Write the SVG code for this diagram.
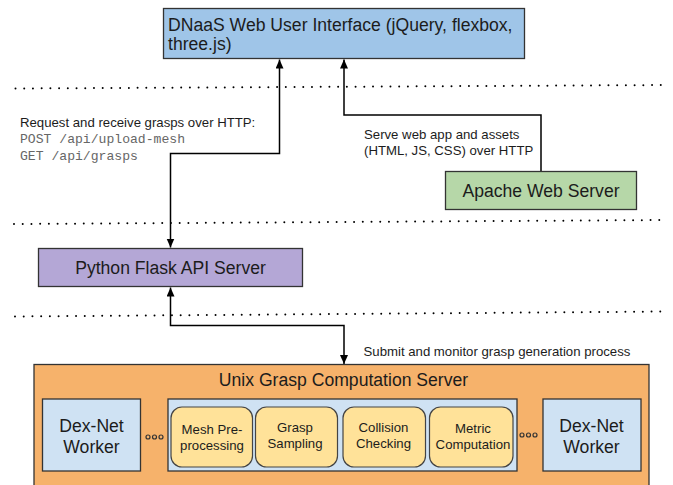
<svg xmlns="http://www.w3.org/2000/svg" width="673" height="485" viewBox="0 0 673 485">
<style>
text{font-family:"Liberation Sans",Arial,sans-serif;fill:#1c1c1c;text-anchor:middle}
.box{stroke:#333;stroke-width:1.3}
.lbl{font-size:13.2px;text-anchor:start}
.mono{font-family:"Liberation Mono","Courier New",monospace;font-size:13.1px;fill:#666;text-anchor:start}
.big{font-size:17.6px}
.yel{fill:#ffe299;stroke:#444;stroke-width:1.2}
.ys{font-size:13.2px}
.dot{fill:none;stroke:#000;stroke-width:2;stroke-linecap:round;stroke-dasharray:0 8.72}
.con{fill:none;stroke:#000;stroke-width:1.5}
.dots circle{fill:none;stroke:#333;stroke-width:1.2}
</style>
<defs>
<marker id="ah" markerUnits="userSpaceOnUse" markerWidth="10" markerHeight="10" refX="9" refY="4" orient="auto-start-reverse"><path d="M0 0L9 4L0 8Z" fill="#000"/></marker>
</defs>
<g id="separators">
<path class="dot" d="M15.5 88.5L668 85"/>
<path class="dot" d="M14 224L667 220"/>
<path class="dot" d="M15 316.500L667 311.500"/>
</g>
<g id="connectors">
<path class="con" marker-start="url(#ah)" marker-end="url(#ah)" d="M170.500 247.500V153.500H279.500V59.500"/>
<path class="con" marker-end="url(#ah)" d="M541 171V115H344V59.500"/>
<path class="con" marker-start="url(#ah)" marker-end="url(#ah)" d="M170.500 287.500V325.500H344V364"/>
</g>
<g id="web-ui">
<rect class="box" x="163.500" y="8.500" width="361" height="50" fill="#9fc5e8"/>
<text class="big" x="168" y="30.500" style="text-anchor:start">DNaaS Web User Interface (jQuery, flexbox,</text>
<text class="big" x="168" y="50" style="text-anchor:start">three.js)</text>
</g>
<g id="apache">
<rect class="box" x="445.500" y="171.500" width="191" height="38" fill="#b6d7a8"/>
<text class="big" x="541" y="197">Apache Web Server</text>
</g>
<g id="flask">
<rect class="box" x="38.500" y="248.500" width="264" height="38" fill="#b4a7d6"/>
<text class="big" x="170.500" y="274">Python Flask API Server</text>
</g>
<g id="labels">
<text class="lbl" x="20" y="127">Request and receive grasps over HTTP:</text>
<text class="mono" x="20" y="143">POST /api/upload-mesh</text>
<text class="mono" x="20" y="160">GET /api/grasps</text>
<text class="lbl" x="364" y="139">Serve web app and assets</text>
<text class="lbl" x="364" y="155">(HTML, JS, CSS) over HTTP</text>
<text class="lbl" x="363.500" y="356">Submit and monitor grasp generation process</text>
</g>
<g id="unix-server">
<rect class="box" x="34" y="364.500" width="615" height="130" fill="#f6b26b"/>
<text class="big" x="343.500" y="386">Unix Grasp Computation Server</text>
</g>
<g id="worker-left">
<rect class="box" x="42.500" y="399" width="98" height="72" fill="#cfe2f3"/>
<text class="big" x="91.500" y="432">Dex-Net</text>
<text class="big" x="91.500" y="453">Worker</text>
</g>
<g id="worker-right">
<rect class="box" x="543" y="399" width="98" height="72" fill="#cfe2f3"/>
<text class="big" x="591.500" y="432">Dex-Net</text>
<text class="big" x="591.500" y="453">Worker</text>
</g>
<g id="pipeline">
<rect class="box" x="168" y="399" width="349" height="72" fill="#cfe2f3"/>
</g>
<g id="mesh">
<rect class="yel" x="171" y="407" width="81.500" height="60" rx="11"/>
<text class="ys" x="212" y="434">Mesh Pre-</text>
<text class="ys" x="212" y="450">processing</text>
</g>
<g id="sampling">
<rect class="yel" x="255.500" y="407" width="82" height="60" rx="11"/>
<text class="ys" x="295" y="432">Grasp</text>
<text class="ys" x="295" y="448">Sampling</text>
</g>
<g id="collision">
<rect class="yel" x="343" y="407" width="82.500" height="60" rx="11"/>
<text class="ys" x="383.500" y="432">Collision</text>
<text class="ys" x="383.500" y="448">Checking</text>
</g>
<g id="metric">
<rect class="yel" x="429.500" y="407" width="83.500" height="60" rx="11"/>
<text class="ys" x="473" y="433">Metric</text>
<text class="ys" x="473" y="449">Computation</text>
</g>
<g id="ellipsis-left" class="dots">
<circle cx="148" cy="437" r="2"/><circle cx="154.500" cy="437" r="2"/><circle cx="161" cy="437" r="2"/>
</g>
<g id="ellipsis-right" class="dots">
<circle cx="522" cy="435" r="2"/><circle cx="528.500" cy="435" r="2"/><circle cx="535" cy="435" r="2"/>
</g>
</svg>
